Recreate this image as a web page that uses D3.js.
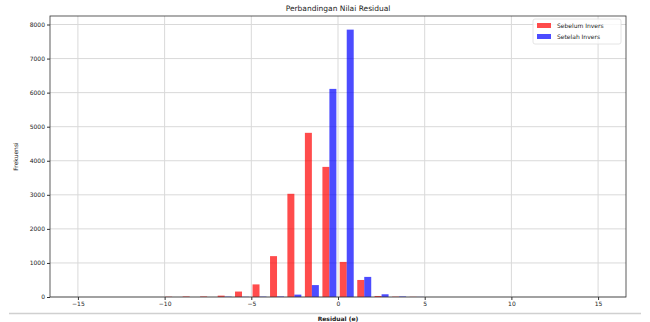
<!DOCTYPE html>
<html>
<head>
<meta charset="utf-8">
<script src="https://cdn.jsdelivr.net/npm/d3@7"></script>
<style>
  body { margin: 0; background: #fff; }
  text { font-family: "DejaVu Sans", sans-serif; fill: #222; }
</style>
</head>
<body>
<div id="svg-container"></div>
<script>
// bin left edges of the histogram (only the bins that hold anything)
let binLefts = [-10.07, -9.06, -8.05, -7.04, -6.04, -5.03, -4.02, -3.02, -2.01, -1.00, 0.00, 1.01, 2.01, 3.02, 4.03];
let binWidth = 1.007;
let sebelum = [8, 15, 15, 40, 160, 370, 1200, 3030, 4820, 3820, 1030, 500, 30, 10, 5];
let setelah = [0, 0, 0, 10, 5, 10, 15, 70, 350, 6110, 7850, 590, 80, 15, 3];
let xTicks = [-15, -10, -5, 0, 5, 10, 15];
let yTicks = [0, 1000, 2000, 3000, 4000, 5000, 6000, 7000, 8000];
let seriesNames = ['Sebelum Invers', 'Setelah Invers'];
let colors = ['rgba(255,0,0,0.7)', 'rgba(0,0,255,0.7)'];

let w = 650;
let h = 322;
let pLeft = 50, pRight = 626, pTop = 16, pBottom = 297;

let svg = d3.select('#svg-container').
append('svg').
attr('width', w).
attr('height', h);

let x = d3.scaleLinear().domain([-16.61, 16.61]).range([pLeft, pRight]);
let y = d3.scaleLinear().domain([0, 8250]).range([pBottom, pTop]);

// grid
svg.append('g').
selectAll('line').
data(xTicks).
join('line').
attr('x1', d => x(d)).attr('x2', d => x(d)).
attr('y1', pTop).attr('y2', pBottom).
attr('stroke', '#d9d9d9').attr('stroke-width', 1);

svg.append('g').
selectAll('line').
data(yTicks).
join('line').
attr('x1', pLeft).attr('x2', pRight).
attr('y1', d => y(d)).attr('y2', d => y(d)).
attr('stroke', '#d9d9d9').attr('stroke-width', 1);

// bars: red on left 40% of bin, blue on right 40% (rwidth 0.8)
[sebelum, setelah].forEach((vals, s) => {
  svg.append('g').
  selectAll('rect').
  data(vals.map((v, i) => ({ x0: binLefts[i], v: v }))).
  join('rect').
  attr('x', d => x(d.x0 + binWidth * (0.1 + 0.4 * s))).
  attr('width', d => x(d.x0 + binWidth * 0.4) - x(d.x0)).
  attr('y', d => y(d.v)).
  attr('height', d => y(0) - y(d.v)).
  attr('fill', colors[s]);
});

// axes
let xAxis = svg.append('g').
attr('transform', 'translate(0,' + pBottom + ')').
call(d3.axisBottom(x).tickValues(xTicks).tickSize(3).tickPadding(2).tickFormat(d => d < 0 ? '\u2212' + Math.abs(d) : d));
let yAxis = svg.append('g').
attr('transform', 'translate(' + pLeft + ',0)').
call(d3.axisLeft(y).tickValues(yTicks).tickSize(3).tickPadding(2).tickFormat(d3.format('d')));
[xAxis, yAxis].forEach(a => {
  a.select('.domain').remove();
  a.selectAll('line').attr('stroke', '#333');
  a.selectAll('text').style('font-size', '6px').style('font-family', '"DejaVu Sans", sans-serif').attr('fill', '#222');
});

svg.append('rect').
attr('x', pLeft).attr('y', pTop).
attr('width', pRight - pLeft).attr('height', pBottom - pTop).
attr('fill', 'none').attr('stroke', '#333').attr('stroke-width', 0.8);

// labels
svg.append('text').
attr('x', (pLeft + pRight) / 2).attr('y', 11).
attr('text-anchor', 'middle').
style('font-size', '7.5px').
text('Perbandingan Nilai Residual');

svg.append('text').
attr('transform', 'translate(18,' + (pTop + pBottom) / 2 + ') rotate(-90)').
attr('text-anchor', 'middle').
style('font-size', '6px').
text('Frekuensi');

svg.append('line').
attr('x1', 9).attr('x2', 641).
attr('y1', 313.5).attr('y2', 313.5).
attr('stroke', '#d0d0d0').attr('stroke-width', 1.5);

svg.append('text').
attr('x', (pLeft + pRight) / 2).attr('y', 320.5).
attr('text-anchor', 'middle').
style('font-size', '6px').
style('font-weight', 'bold').
text('Residual (e)');

// legend
let legend = svg.append('g');
legend.append('rect').
attr('x', 533).attr('y', 19).
attr('width', 88).attr('height', 25).
attr('rx', 2).
attr('fill', 'rgba(255,255,255,0.8)').attr('stroke', '#ddd').attr('stroke-width', 0.8);

legend.selectAll('.legend-item').
data(seriesNames).
join('rect').
attr('class', 'legend-item').
attr('x', 537).
attr('y', (d, i) => 23 + i * 11).
attr('width', 14).attr('height', 5).
attr('fill', (d, i) => colors[i]);

legend.selectAll('.legend-text').
data(seriesNames).
join('text').
attr('class', 'legend-text').
attr('x', 557).
attr('y', (d, i) => 28 + i * 11).
style('font-size', '6px').
text(d => d);
</script>
</body>
</html>
